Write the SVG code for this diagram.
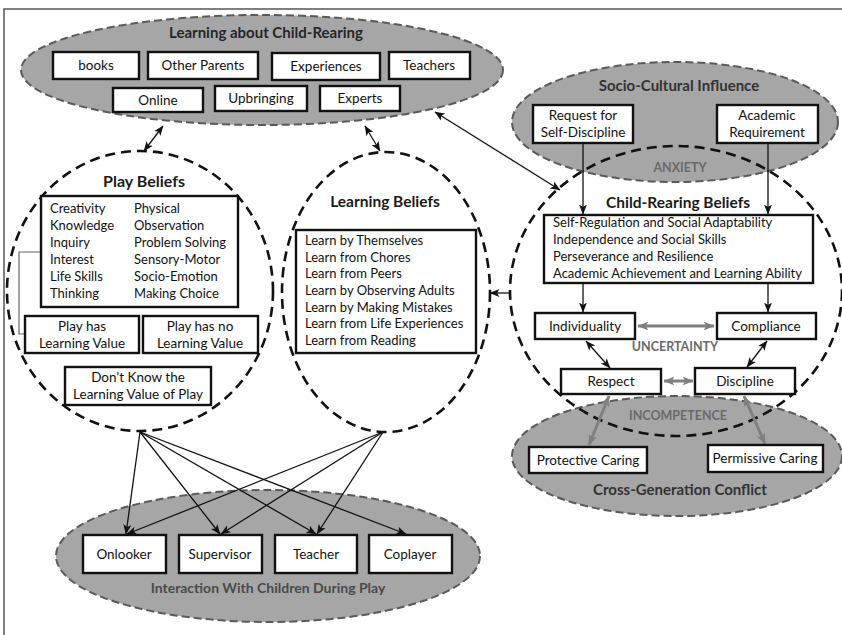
<svg xmlns="http://www.w3.org/2000/svg" width="842" height="635" viewBox="0 0 842 635">
<defs>
<style>
.bg{fill:#ffffff}
.frame{stroke:#555;stroke-width:1.5;fill:none}
.gell{fill:#a6a6a6;stroke:#5a5a5a;stroke-width:2;stroke-dasharray:8 4}
.dcirc{fill:none;stroke:#111;stroke-width:2.6;stroke-dasharray:10 6}
.box{fill:#fff;stroke:#111;stroke-width:2.4}
.t{font-family:Lato,"Liberation Sans",sans-serif;font-size:13px;fill:#111}
.tc{font-family:Lato,"Liberation Sans",sans-serif;font-size:13.5px;fill:#111;text-anchor:middle}
.title{font-family:Lato,"Liberation Sans",sans-serif;font-size:15px;font-weight:bold;fill:#1a1a1a;text-anchor:middle}
.gl{font-family:Lato,"Liberation Sans",sans-serif;font-size:12.5px;font-weight:bold;fill:#6a6a6a;text-anchor:middle}
.ln{stroke:#111;stroke-width:1.3;fill:none}
.gln{stroke:#808080;stroke-width:3;fill:none}
.br{stroke:#666;stroke-width:1.2;fill:none}
</style>
<marker id="ah" viewBox="0 0 10 10" refX="9.5" refY="5" markerWidth="10" markerHeight="10" markerUnits="userSpaceOnUse" orient="auto-start-reverse">
<path d="M0,1 L10,5 L0,9 L2.5,5 z" fill="#111"/>
</marker>
<marker id="ahg" viewBox="0 0 10 10" refX="9.5" refY="5" markerWidth="11" markerHeight="11" markerUnits="userSpaceOnUse" orient="auto-start-reverse">
<path d="M0,1 L10,5 L0,9 L2.5,5 z" fill="#808080"/>
</marker>
</defs>
<rect class="bg" x="0" y="0" width="842" height="635"/>
<g id="frame"><path class="frame" d="M4,635 V9 H842"/></g>

<g id="learning-about-child-rearing">
<ellipse class="gell" cx="262" cy="70" rx="241" ry="55"/>
<text class="title" x="266" y="38" style="fill:#262626">Learning about Child-Rearing</text>
</g>
<g id="socio-cultural-influence">
<ellipse class="gell" cx="675" cy="122" rx="163" ry="60"/>
<text class="title" x="679" y="91" style="fill:#333">Socio-Cultural Influence</text>
</g>
<g id="cross-generation-conflict">
<ellipse class="gell" cx="677" cy="456" rx="165" ry="60"/>
<text class="title" x="680" y="495" style="fill:#333">Cross-Generation Conflict</text>
</g>
<g id="interaction-with-children">
<ellipse class="gell" cx="268" cy="556" rx="212" ry="66"/>
<text class="title" x="268" y="593" style="fill:#4a4a4a;font-size:14px">Interaction With Children During Play</text>
</g>
<g id="play-beliefs">
<ellipse class="dcirc" cx="140" cy="291" rx="133" ry="140"/>
<text class="title" x="144" y="187" style="font-size:16px">Play Beliefs</text>
</g>
<g id="learning-beliefs">
<ellipse class="dcirc" cx="386" cy="292" rx="104" ry="140"/>
<text class="title" x="385" y="207" style="font-size:15.5px">Learning Beliefs</text>
</g>
<g id="child-rearing-beliefs">
<ellipse class="dcirc" cx="676" cy="291" rx="166" ry="145"/>
<text class="title" x="678" y="208" style="font-size:15.5px">Child-Rearing Beliefs</text>
</g>

<g id="connectors">
<line class="ln" x1="163" y1="126" x2="144" y2="151" marker-start="url(#ah)" marker-end="url(#ah)"/>
<line class="ln" x1="365" y1="126" x2="380" y2="151" marker-start="url(#ah)" marker-end="url(#ah)"/>
<line class="ln" x1="435" y1="112" x2="560" y2="190" marker-start="url(#ah)" marker-end="url(#ah)"/>
<line class="ln" x1="511" y1="293" x2="490" y2="293" marker-end="url(#ah)"/>
<line class="ln" x1="583" y1="143" x2="583" y2="214" marker-end="url(#ah)"/>
<line class="ln" x1="768" y1="143" x2="768" y2="214" marker-end="url(#ah)"/>
<line class="ln" x1="583" y1="283" x2="583" y2="312" marker-end="url(#ah)"/>
<line class="ln" x1="768" y1="283" x2="768" y2="312" marker-end="url(#ah)"/>
<line class="ln" x1="586" y1="341" x2="610" y2="368" marker-start="url(#ah)" marker-end="url(#ah)"/>
<line class="ln" x1="767" y1="341" x2="747" y2="367" marker-start="url(#ah)" marker-end="url(#ah)"/>
<line class="gln" x1="638" y1="326" x2="714" y2="326" marker-start="url(#ahg)" marker-end="url(#ahg)"/>
<line class="gln" x1="664" y1="381" x2="693" y2="381" marker-start="url(#ahg)" marker-end="url(#ahg)"/>
<line class="gln" x1="609" y1="396" x2="589" y2="445" marker-start="url(#ahg)" marker-end="url(#ahg)"/>
<line class="gln" x1="744" y1="396" x2="765" y2="444" marker-start="url(#ahg)" marker-end="url(#ahg)"/>
<line class="ln" x1="140" y1="432" x2="126" y2="534" marker-end="url(#ah)"/>
<line class="ln" x1="140" y1="432" x2="220" y2="534" marker-end="url(#ah)"/>
<line class="ln" x1="140" y1="432" x2="316" y2="534" marker-end="url(#ah)"/>
<line class="ln" x1="140" y1="432" x2="406" y2="534" marker-end="url(#ah)"/>
<line class="ln" x1="383" y1="432" x2="127" y2="534" marker-end="url(#ah)"/>
<line class="ln" x1="383" y1="432" x2="221" y2="534" marker-end="url(#ah)"/>
<line class="ln" x1="383" y1="432" x2="317" y2="534" marker-end="url(#ah)"/>
<path class="br" d="M41,252 H19 V334 H25"/>
</g>

<g id="books"><rect class="box" x="53" y="52" width="86" height="27"/><text class="tc" x="96" y="70">books</text></g>
<g id="other-parents"><rect class="box" x="148" y="52" width="110" height="27"/><text class="tc" x="203" y="70">Other Parents</text></g>
<g id="experiences"><rect class="box" x="272" y="53" width="108" height="27"/><text class="tc" x="326" y="71">Experiences</text></g>
<g id="teachers"><rect class="box" x="389" y="52" width="81" height="27"/><text class="tc" x="429" y="70">Teachers</text></g>
<g id="online"><rect class="box" x="113" y="88" width="90" height="24"/><text class="tc" x="158" y="105">Online</text></g>
<g id="upbringing"><rect class="box" x="215" y="86" width="92" height="25"/><text class="tc" x="261" y="103">Upbringing</text></g>
<g id="experts"><rect class="box" x="320" y="86" width="80" height="25"/><text class="tc" x="360" y="103">Experts</text></g>

<g id="play-belief-items"><rect class="box" x="41" y="196" width="197" height="111"/>
<text class="t" x="50" y="213">Creativity</text><text class="t" x="50" y="230">Knowledge</text><text class="t" x="50" y="247">Inquiry</text><text class="t" x="50" y="264">Interest</text><text class="t" x="50" y="281">Life Skills</text><text class="t" x="50" y="298">Thinking</text>
<text class="t" x="134" y="213">Physical</text><text class="t" x="134" y="230">Observation</text><text class="t" x="134" y="247">Problem Solving</text><text class="t" x="134" y="264">Sensory-Motor</text><text class="t" x="134" y="281">Socio-Emotion</text><text class="t" x="134" y="298">Making Choice</text>
</g>
<g id="play-has-value"><rect class="box" x="25" y="316" width="114" height="37"/><text class="tc" x="82" y="331">Play has</text><text class="tc" x="82" y="348">Learning Value</text></g>
<g id="play-has-no-value"><rect class="box" x="143" y="316" width="115" height="37"/><text class="tc" x="200" y="331">Play has no</text><text class="tc" x="200" y="348">Learning Value</text></g>
<g id="dont-know"><rect class="box" x="65" y="367" width="146" height="38"/><text class="tc" x="138" y="382">Don’t Know the</text><text class="tc" x="138" y="399">Learning Value of Play</text></g>

<g id="learning-belief-items"><rect class="box" x="296" y="230" width="180" height="123"/>
<text class="t" x="305" y="245">Learn by Themselves</text><text class="t" x="305" y="262">Learn from Chores</text><text class="t" x="305" y="278">Learn from Peers</text><text class="t" x="305" y="295">Learn by Observing Adults</text><text class="t" x="305" y="312">Learn by Making Mistakes</text><text class="t" x="305" y="328">Learn from Life Experiences</text><text class="t" x="305" y="345">Learn from Reading</text>
</g>

<g id="request-self-discipline"><rect class="box" x="533" y="105" width="100" height="38"/><text class="tc" x="583" y="120">Request for</text><text class="tc" x="583" y="137">Self-Discipline</text></g>
<g id="academic-requirement"><rect class="box" x="717" y="105" width="101" height="38"/><text class="tc" x="767" y="120">Academic</text><text class="tc" x="767" y="137">Requirement</text></g>

<g id="child-rearing-items"><rect class="box" x="544" y="215" width="269" height="68"/>
<text class="t" x="553" y="227">Self-Regulation and Social Adaptability</text><text class="t" x="553" y="244">Independence and Social Skills</text><text class="t" x="553" y="261">Perseverance and Resilience</text><text class="t" x="553" y="278">Academic Achievement and Learning Ability</text>
</g>
<g id="individuality"><rect class="box" x="535" y="313" width="100" height="26"/><text class="tc" x="585" y="331">Individuality</text></g>
<g id="compliance"><rect class="box" x="717" y="313" width="99" height="26"/><text class="tc" x="766" y="331">Compliance</text></g>
<g id="respect"><rect class="box" x="561" y="369" width="100" height="25"/><text class="tc" x="611" y="386">Respect</text></g>
<g id="discipline"><rect class="box" x="695" y="368" width="100" height="26"/><text class="tc" x="745" y="386">Discipline</text></g>
<g id="protective-caring"><rect class="box" x="529" y="447" width="118" height="26"/><text class="tc" x="588" y="465">Protective Caring</text></g>
<g id="permissive-caring"><rect class="box" x="708" y="445" width="115" height="27"/><text class="tc" x="765" y="463">Permissive Caring</text></g>

<g id="onlooker"><rect class="box" x="83" y="535" width="83" height="38"/><text class="tc" x="124" y="559">Onlooker</text></g>
<g id="supervisor"><rect class="box" x="179" y="535" width="83" height="38"/><text class="tc" x="220" y="559">Supervisor</text></g>
<g id="teacher"><rect class="box" x="275" y="535" width="82" height="38"/><text class="tc" x="316" y="559">Teacher</text></g>
<g id="coplayer"><rect class="box" x="369" y="535" width="83" height="38"/><text class="tc" x="410" y="559">Coplayer</text></g>

<g id="tension-labels">
<text class="gl" x="680" y="172">ANXIETY</text>
<text class="gl" x="675" y="351">UNCERTAINTY</text>
<text class="gl" x="678" y="420">INCOMPETENCE</text>
</g>
</svg>
